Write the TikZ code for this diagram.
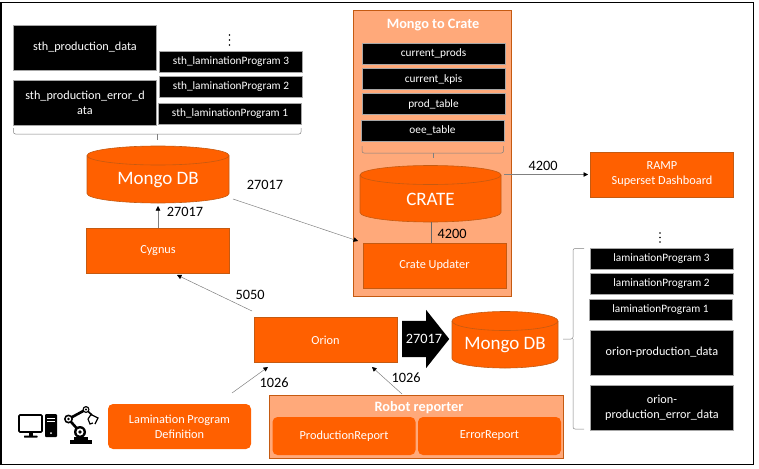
\documentclass[tikz,border=0pt]{standalone}
\usepackage{fontspec}
\setmainfont{Carlito}
\usetikzlibrary{arrows.meta,shapes.arrows}
\definecolor{rampdark}{HTML}{FF6000}
\definecolor{ramplight}{HTML}{FFA97A}
\definecolor{rampline}{HTML}{C55A11}
\tikzset{
  orangebox/.style={rectangle, fill=rampdark, draw=rampline, text=white, font=\fontsize{12.3}{15}\selectfont, align=center, minimum width=143, minimum height=45, inner sep=0},
  softbox/.style={rectangle, rounded corners=5, fill=rampdark, text=white, font=\fontsize{12.3}{15}\selectfont, align=center, minimum width=143, inner sep=0},
  groupbox/.style={rectangle, fill=ramplight, draw=rampline, inner sep=0},
  tablebox/.style={rectangle, fill=black, draw=black!35, line width=.4, text=white, font=\fontsize{11.3}{14}\selectfont, align=center, minimum width=143, minimum height=21, inner sep=0},
  bigtable/.style={tablebox, font=\fontsize{12.2}{15}\selectfont, minimum height=45},
  database/.style={text=white, font=\fontsize{19}{22}\selectfont, inner sep=0},
  drum/.style={fill=rampdark, draw=rampline, line width=.6},
  link/.style={draw=black!50, line width=.5, -{Triangle[length=4.5,width=4.5,color=black]}},
  plainlink/.style={draw=black!60, line width=.5},
  groupbrace/.style={draw=black!50, line width=.5, rounded corners=2},
  port/.style={font=\fontsize{14.3}{16}\selectfont, inner sep=0},
  grouptitle/.style={text=white, font=\bfseries\fontsize{14.3}{16}\selectfont, inner sep=0}
}
% left, top, half width, bottom of a database drum
\newcommand{\dbdrum}[4]{
  \filldraw [drum] (#1,#2+9.5) arc [start angle=180, end angle=0, x radius=#3pt, y radius=9.5pt]
    -- (#1+2*#3,#4-9.5) arc [start angle=0, end angle=-180, x radius=#3pt, y radius=9.5pt] -- cycle;
  \draw [drum, fill=none] (#1,#2+9.5) arc [start angle=180, end angle=360, x radius=#3pt, y radius=9.5pt];
}
\begin{document}
\begin{tikzpicture}[x=1pt,y=-1pt]
\useasboundingbox (0,0) rectangle (759,468);
\draw [line width=1.1] (1,2.5) rectangle (753.5,464.5);
% sth collections
\node [bigtable] (sthdata) at (85,47.5) {sth\_production\_data};
\node [bigtable] (stherror) at (85,102.5) {sth\_production\_error\_d\\ata};
\node [tablebox] (sthprog3) at (231,61.5) {sth\_laminationProgram 3};
\node [tablebox] (sthprog2) at (231,86.5) {sth\_laminationProgram 2};
\node [tablebox] (sthprog1) at (230,113.5) {sth\_laminationProgram 1};
\foreach \dy in {35,40,45} \fill (229.5,\dy) circle (.9);
\draw [groupbrace] (13.5,128) -- (13.5,134) -- (301,134) -- (301,128);
\draw [groupbrace] (157.5,134) -- (157.5,140);
% left column
\dbdrum{87}{146}{71}{203}
\node [database] (mongosth) at (158,180) {Mongo DB};
\node [orangebox] (cygnus) at (158,250.5) {Cygnus};
\node [orangebox] (orion) at (325.5,340) {Orion};
% mongo to crate
\node [groupbox, minimum width=158, minimum height=286] (cratebox) at (432,153) {};
\node [grouptitle] (cratetitle) at (433,25) {Mongo to Crate};
\node [tablebox] (curprods) at (433.5,53.5) {current\_prods};
\node [tablebox] (curkpis) at (433.5,79) {current\_kpis};
\node [tablebox] (prodtable) at (433.5,104) {prod\_table};
\node [tablebox] (oeetable) at (432.5,130.5) {oee\_table};
\draw [groupbrace] (362,146) -- (362,153) -- (503.5,153) -- (503.5,146);
\draw [groupbrace] (433,153) -- (433,158);
\dbdrum{360}{165.5}{70.5}{222}
\node [database] (crate) at (430.5,199) {CRATE};
\node [orangebox] (updater) at (434.5,265.5) {Crate Updater};
% dashboard
\node [orangebox] (ramp) at (662,174.5) {RAMP\\Superset Dashboard};
% orion collections
\foreach \dy in {233,237.5,242} \fill (660,\dy) circle (.9);
\node [tablebox] (orionprog3) at (661.5,258.5) {laminationProgram 3};
\node [tablebox] (orionprog2) at (661.5,283.5) {laminationProgram 2};
\node [tablebox] (orionprog1) at (660.5,310) {laminationProgram 1};
\node [bigtable] (oriondata) at (662,352.5) {orion-production\_data};
\node [bigtable] (orionerror) at (662,407.5) {orion-\\production\_error\_data};
\draw [groupbrace] (584,248.5) -- (573,248.5) -- (573,339) -- (563,339);
\draw [groupbrace] (573,339) -- (573,429) -- (584,429);
\dbdrum{452}{311.5}{53}{368}
\node [database] (mongoorion) at (505,345.5) {Mongo DB};
\node [single arrow, fill=black, minimum height=47, single arrow head extend=11, single arrow tip angle=103, inner xsep=0, inner ysep=18] (bigarrow) at (418.5,339) {};
\node [port, text=white] (portbig) at (424,339) {27017};
% sources
\node [softbox, minimum height=45] (lamdef) at (179.5,426.5) {Lamination Program\\Definition};
\node [groupbox, minimum width=294, minimum height=63] (reporter) at (416,426.5) {};
\node [grouptitle] (reportertitle) at (419,407.5) {Robot reporter};
\node [softbox, minimum height=38] (prodreport) at (344,436) {ProductionReport};
\node [softbox, minimum height=38] (errreport) at (489.5,436) {ErrorReport};
% connectors
\coordinate (mongohead) at (158,206);
\coordinate (mongotail) at (233,199);
\coordinate (updaterin) at (358,241);
\coordinate (oriontail) at (252,311);
\coordinate (cygnushead) at (177,275);
\coordinate (lamtail) at (232,393);
\coordinate (lamhead) at (268,367);
\coordinate (reptail) at (402,394);
\coordinate (rephead) at (372,367);
\coordinate (cratetail) at (504,174.5);
\coordinate (ramphead) at (588,174.5);
\coordinate (cratefoot) at (431,222);
\coordinate (updatertop) at (431,243);
\draw [link] (cygnus.north) -- (mongohead);
\draw [link] (mongotail) -- (updaterin);
\draw [plainlink] (cratefoot) -- (updatertop);
\draw [link] (cratetail) -- (ramphead);
\draw [link] (oriontail) -- (cygnushead);
\draw [link] (lamtail) -- (lamhead);
\draw [link] (reptail) -- (rephead);
% ports
\node [port] (portmongo) at (185,212) {27017};
\node [port] (portupdater) at (265,185) {27017};
\node [port] (portcrate) at (452,234) {4200};
\node [port] (portramp) at (543,166) {4200};
\node [port] (portcygnus) at (250,294.5) {5050};
\node [port] (portlam) at (274,383) {1026};
\node [port] (portrep) at (406,378) {1026};
% computer and robot icons
\draw [line width=1.6, rounded corners=1] (19,415) rectangle (42,432);
\fill (29,433) rectangle (33,436);
\fill [rounded corners=.5] (24,435.5) rectangle (37.5,437.5);
\fill [rounded corners=1] (45,414) rectangle (57,437);
\draw [white, line width=.6] (47,418.5) -- (55,418.5) (47,421.5) -- (55,421.5);
\fill [white] (51,433) circle (1);
\fill (70,440) rectangle (92,443.5);
\fill (74,437) rectangle (88,440);
\draw [line width=2.6] (80,432) -- (68.5,419) -- (86,409.5);
\draw [line width=1.6] (86,409.5) -- (92,415);
\draw [line width=1.2] (88,419) -- (91,414.5) -- (98,418) -- (95,424) (88,419) -- (90,424) -- (93,423);
\foreach \cx/\cy/\cr in {80/432/6,68.5/419/4.5,86/409.5/3.5} {
  \fill (\cx,\cy) circle (\cr);
  \fill [white] (\cx,\cy) circle (\cr*.6);
  \fill (\cx,\cy) circle (\cr*.3);
}
\end{tikzpicture}
\end{document}
